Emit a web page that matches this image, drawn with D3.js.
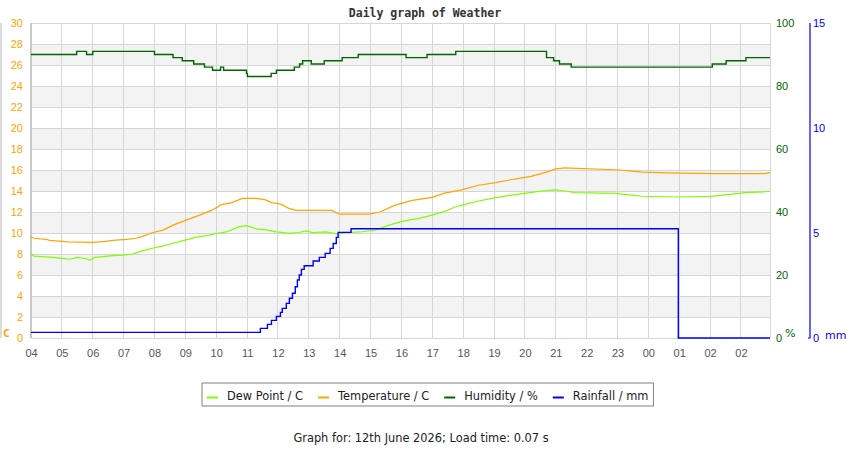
<!DOCTYPE html>
<html>
<head>
<meta charset="utf-8">
<script src="https://cdn.jsdelivr.net/npm/d3@7"></script>
<style>
    body { margin: 0; background: #fff; }
    svg { display: block; font-family: "DejaVu Sans", Verdana, sans-serif; }
</style>
</head>
<body>
<svg id="chart" width="850" height="450"></svg>
<script>
// hours since 04:00, one label per hour
const hourLabels = ['04','05','06','07','08','09','10','11','12','13','14','15',
                    '16','17','18','19','20','21','22','23','00','01','02','02'];
const tempTicks = d3.range(0, 31, 2);
const humidityTicks = [0, 20, 40, 60, 80, 100];
const rainTicks = [0, 5, 10, 15];

// [hour offset, value]
const dewPoint = [
    [0, 8.0], [0.1, 7.8], [0.6, 7.7], [0.95, 7.6], [1.26, 7.5], [1.5, 7.68], [1.8, 7.55],
    [1.9, 7.4], [2.07, 7.68], [2.33, 7.75], [2.65, 7.85], [2.97, 7.9], [3.3, 8.0], [3.6, 8.3],
    [3.94, 8.55], [4.26, 8.75], [4.59, 9.0], [4.9, 9.25], [5.36, 9.6], [5.69, 9.75],
    [6.01, 9.95], [6.33, 10.1], [6.75, 10.6], [6.98, 10.7], [7.3, 10.4], [7.62, 10.3],
    [7.95, 10.1], [8.37, 9.97], [8.7, 10.07], [8.92, 10.2], [9.11, 10.03], [9.56, 10.1],
    [9.92, 9.9], [10.2, 10.03], [10.73, 10.12], [11.18, 10.3], [11.6, 10.75], [12.02, 11.1],
    [12.57, 11.4], [12.99, 11.7], [13.44, 12.1], [13.76, 12.5], [14.09, 12.75], [14.5, 13.05],
    [15.06, 13.37], [15.57, 13.6], [16.1, 13.82], [16.67, 14.05], [17.0, 14.1], [17.3, 14.0],
    [17.64, 13.84], [18.93, 13.78], [19.45, 13.6], [19.77, 13.5], [20.97, 13.43],
    [22.03, 13.49], [22.58, 13.65], [23.13, 13.84], [23.78, 13.93], [23.94, 13.95]
];

const temperature = [
    [0, 9.6], [0.1, 9.5], [0.5, 9.4], [0.6, 9.3], [1.2, 9.15], [2.0, 9.1], [2.4, 9.2],
    [2.65, 9.3], [3.1, 9.4], [3.4, 9.5], [3.6, 9.65], [3.9, 10.0], [4.3, 10.3], [4.6, 10.75],
    [5.0, 11.2], [5.46, 11.7], [5.88, 12.2], [6.17, 12.7], [6.5, 12.9], [6.85, 13.3],
    [7.3, 13.3], [7.6, 13.15], [7.8, 12.9], [8.1, 12.75], [8.35, 12.35], [8.6, 12.15],
    [9.75, 12.15], [9.9, 11.9], [10.0, 11.8], [10.95, 11.8], [11.3, 12.0], [11.8, 12.65],
    [12.35, 13.1], [13.0, 13.4], [13.4, 13.8], [13.95, 14.1], [14.5, 14.55], [15.05, 14.8],
    [15.5, 15.05], [15.8, 15.2], [16.2, 15.4], [16.7, 15.8], [17.0, 16.1], [17.3, 16.2],
    [17.7, 16.15], [19.1, 16.0], [19.45, 15.9], [19.8, 15.8], [21.0, 15.7], [22.2, 15.65],
    [23.75, 15.65], [23.94, 15.75]
];

const humidity = [
    [0, 90], [1.48, 91], [1.8, 90], [2.0, 91], [4.0, 90], [4.6, 89], [4.9, 88], [5.27, 87],
    [5.62, 86], [5.88, 85], [6.14, 86], [6.24, 85], [6.98, 84], [7.01, 83], [7.78, 84],
    [7.95, 85], [8.53, 86], [8.7, 87], [8.8, 88], [9.08, 87], [9.5, 88], [10.08, 89],
    [10.6, 90], [12.15, 89], [12.83, 90], [13.76, 91], [16.7, 89], [16.93, 88], [17.12, 87],
    [17.5, 86], [22.07, 87], [22.52, 88], [23.16, 89], [23.94, 89]
];

const rainfall = [
    [0, 0.27], [7.43, 0.46], [7.66, 0.65], [7.79, 0.84], [7.95, 1.03], [8.08, 1.22],
    [8.14, 1.41], [8.27, 1.65], [8.37, 1.89], [8.47, 2.13], [8.56, 2.44], [8.63, 2.76],
    [8.69, 3.0], [8.76, 3.27], [8.85, 3.44], [9.14, 3.67], [9.34, 3.84], [9.53, 4.03],
    [9.69, 4.27], [9.79, 4.5], [9.89, 4.79], [9.95, 5.03], [10.37, 5.2], [20.97, 0], [23.94, 0]
];

const margin = {top: 23, left: 31, right: 80, bottom: 112};
const width = 850, height = 450;

const svg = d3.select('#chart');

const xScale = d3.scaleLinear().domain([0, 23.94]).range([margin.left, width - margin.right]);
const yTemp = d3.scaleLinear().domain([0, 30]).range([height - margin.bottom, margin.top]);
const yHum = d3.scaleLinear().domain([0, 100]).range(yTemp.range());
const yRain = d3.scaleLinear().domain([0, 15]).range(yTemp.range());

const x0 = xScale.range()[0], x1 = xScale.range()[1];
const yBottom = yTemp.range()[0], yTop = yTemp.range()[1];

// alternating bands
svg.append('g').selectAll('rect')
    .data(tempTicks.filter(t => t < 30 && (t / 2) % 2 === 1))
    .join('rect')
    .attr('x', x0)
    .attr('width', x1 - x0)
    .attr('y', d => yTemp(d + 2))
    .attr('height', d => yTemp(d) - yTemp(d + 2))
    .attr('fill', '#f3f3f3');

// grid
const grid = svg.append('g')
    .attr('stroke', '#d6d6d6')
    .attr('shape-rendering', 'crispEdges');

grid.selectAll('.h')
    .data(tempTicks)
    .join('line')
    .attr('x1', x0).attr('x2', x1)
    .attr('y1', d => yTemp(d)).attr('y2', d => yTemp(d));

grid.selectAll('.v')
    .data(d3.range(hourLabels.length).concat([xScale.domain()[1]]))
    .join('line')
    .attr('x1', d => xScale(d)).attr('x2', d => xScale(d))
    .attr('y1', yTop).attr('y2', yBottom);

// left frame line and stray edge line
svg.append('line')
    .attr('x1', x0).attr('x2', x0).attr('y1', yTop).attr('y2', yBottom)
    .attr('stroke', '#c8c8c8').attr('stroke-width', 2);
svg.append('line')
    .attr('x1', 1).attr('x2', 1).attr('y1', yTop).attr('y2', yBottom)
    .attr('stroke', '#d0d0d0').attr('stroke-width', 1.5);

// axes
const xAxis = d3.axisBottom(xScale)
    .tickValues(d3.range(hourLabels.length))
    .tickFormat(i => hourLabels[i])
    .tickSize(0)
    .tickPadding(11);

svg.append('g')
    .attr('transform', 'translate(0,' + yBottom + ')')
    .call(xAxis)
    .call(g => g.select('.domain').remove())
    .selectAll('text')
    .attr('fill', '#555')
    .attr('font-size', 11);

svg.append('g')
    .attr('transform', 'translate(' + x0 + ',0)')
    .call(d3.axisLeft(yTemp).tickValues(tempTicks).tickSize(0).tickPadding(8))
    .call(g => g.select('.domain').remove())
    .selectAll('text')
    .attr('fill', '#ffa500')
    .attr('font-size', 11);

svg.append('g')
    .attr('transform', 'translate(' + x1 + ',0)')
    .call(d3.axisRight(yHum).tickValues(humidityTicks).tickSize(0).tickPadding(6))
    .call(g => g.select('.domain').remove())
    .selectAll('text')
    .attr('fill', '#006400')
    .attr('font-size', 11);

const rainAxisX = 810;
svg.append('g')
    .attr('transform', 'translate(' + rainAxisX + ',0)')
    .call(d3.axisRight(yRain).tickValues(rainTicks).tickSize(0).tickPadding(3))
    .call(g => g.select('.domain').remove())
    .selectAll('text')
    .attr('fill', '#0000ff')
    .attr('font-size', 11);

svg.append('path')
    .attr('d', 'M' + (rainAxisX - 2) + ',' + yBottom + 'H' + rainAxisX + 'V' + yTop)
    .attr('fill', 'none')
    .attr('stroke', '#0000ff')
    .attr('stroke-width', 1.2);

// units
svg.append('text').attr('x', 3).attr('y', yBottom - 1)
    .attr('font-family', '"DejaVu Sans Mono", monospace')
    .attr('font-weight', 'bold').attr('font-size', 11)
    .attr('fill', '#ffa500').text('C');
svg.append('text').attr('x', 785).attr('y', yBottom - 1)
    .attr('font-size', 11).attr('fill', '#006400').text('%');
svg.append('text').attr('x', 825).attr('y', yBottom + 1)
    .attr('font-size', 11).attr('fill', '#0000ff').text('mm');

// series
const series = [
    {name: 'Dew Point / C', data: dewPoint, y: yTemp, color: '#7fff00', curve: d3.curveLinear, w: 1.2},
    {name: 'Temperature / C', data: temperature, y: yTemp, color: '#ffa500', curve: d3.curveLinear, w: 1.2},
    {name: 'Humidity / %', data: humidity, y: yHum, color: '#006400', curve: d3.curveStepAfter, w: 1.4},
    {name: 'Rainfall / mm', data: rainfall, y: yRain, color: '#0000ff', curve: d3.curveStepAfter, w: 1.4},
];

svg.append('g').selectAll('path')
    .data(series)
    .join('path')
    .attr('fill', 'none')
    .attr('stroke', d => d.color)
    .attr('stroke-width', d => d.w)
    .attr('d', s => d3.line()
        .x(d => xScale(d[0]))
        .y(d => s.y(d[1]))
        .curve(s.curve)(s.data));

// title
svg.append('text')
    .attr('x', 425).attr('y', 17)
    .attr('text-anchor', 'middle')
    .attr('font-family', '"DejaVu Sans Mono", monospace')
    .attr('font-weight', 'bold')
    .attr('font-size', 11.5)
    .attr('fill', '#333')
    .text('Daily graph of Weather');

// legend
const legendFont = 11.4;
const legendLeft = 202;
const legend = svg.append('g');
const legendBox = legend.append('rect')
    .attr('x', legendLeft).attr('y', 383).attr('height', 23)
    .attr('fill', '#fff').attr('stroke', '#808080');

let cursor = legendLeft + 5;
legend.selectAll('g')
    .data(series)
    .join('g')
    .each(function(d) {
        const g = d3.select(this).attr('transform', 'translate(' + cursor + ',0)');
        g.append('line')
            .attr('x1', 0).attr('x2', 11)
            .attr('y1', 397.5).attr('y2', 397.5)
            .attr('stroke', d.color).attr('stroke-width', 2);
        const t = g.append('text')
            .attr('x', 20).attr('y', 400)
            .attr('font-size', legendFont).attr('fill', '#222')
            .text(d.name);
        cursor += 20 + t.node().getComputedTextLength() + 15;
    });
legendBox.attr('width', cursor - 15 + 5 - legendLeft);

// footer
svg.append('text')
    .attr('x', 421).attr('y', 442)
    .attr('text-anchor', 'middle')
    .attr('font-size', legendFont).attr('fill', '#222')
    .text('Graph for: 12th June 2026; Load time: 0.07 s');
</script>
</body>
</html>
